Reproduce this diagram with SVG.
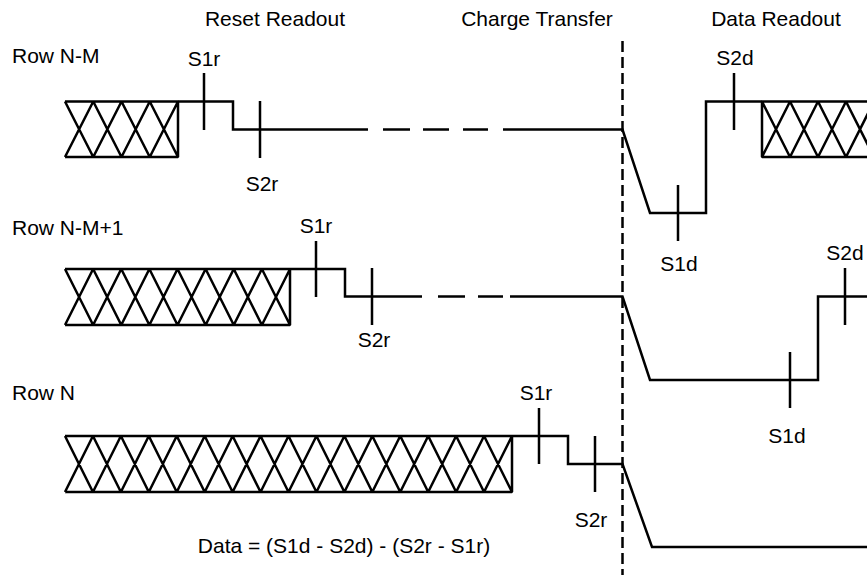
<svg xmlns="http://www.w3.org/2000/svg" width="867" height="575" viewBox="0 0 867 575">
<style>
.ln{fill:none;stroke:#000;stroke-width:2.5;stroke-linejoin:miter;stroke-linecap:butt}
.hx{fill:none;stroke:#000;stroke-width:2.5;stroke-linejoin:bevel}
.dv{fill:none;stroke:#000;stroke-width:2.5;stroke-dasharray:11 5}
text{font-family:"Liberation Sans",Arial,sans-serif;font-size:21px;fill:#000}
.c{text-anchor:middle}
</style>
<rect width="867" height="575" fill="#fff"/>
<g id="headers">
<text class="c" x="275" y="26">Reset Readout</text>
<text class="c" x="537" y="26">Charge Transfer</text>
<text class="c" x="776" y="26">Data Readout</text>
</g>
<g id="divider">
<line class="dv" x1="622.5" y1="41" x2="622.5" y2="575"/>
</g>
<g id="row-n-m">
<text x="12" y="63">Row N-M</text>
<path class="hx" d="M65,101.5H178V157H65M178,101.5V157M65,101.5L93.25,157L121.5,101.5L149.75,157L178,101.5M65,157L93.25,101.5L121.5,157L149.75,101.5L178,157"/>
<path class="ln" d="M178,101.5H233V129.5H368"/>
<path class="ln" d="M383,129.5H410M423,129.5H449M463,129.5H488"/>
<path class="ln" d="M503,129.5H622.5L650,213H706V101.5H762"/>
<path class="hx" d="M867,101.5H762V157H867M762,101.5L790,157L818,101.5L846,157L874,101.5M762,157L790,101.5L818,157L846,101.5L874,157"/>
<path class="ln" d="M204,73V130M260,101V158M678,185V241M734,73V130"/>
<text class="c" x="204" y="66">S1r</text>
<text class="c" x="262" y="191">S2r</text>
<text class="c" x="679" y="271">S1d</text>
<text class="c" x="735" y="65">S2d</text>
</g>
<g id="row-n-m-1">
<text x="12" y="235">Row N-M+1</text>
<path class="hx" d="M65,269H290V325H65M290,269V325M65,269L93.125,325L121.25,269L149.375,325L177.5,269L205.625,325L233.75,269L261.875,325L290,269M65,325L93.125,269L121.25,325L149.375,269L177.5,325L205.625,269L233.75,325L261.875,269L290,325"/>
<path class="ln" d="M290,269H345V296.5H422"/>
<path class="ln" d="M438,296.5H465M478,296.5H503"/>
<path class="ln" d="M510,296.5H622.5L650,380H818V296.5H867"/>
<path class="ln" d="M316,241V297M372,268V325M790,352V408M845,268V325"/>
<text class="c" x="316" y="233">S1r</text>
<text class="c" x="374" y="347">S2r</text>
<text class="c" x="787" y="443">S1d</text>
<text class="c" x="845" y="260">S2d</text>
</g>
<g id="row-n">
<text x="12" y="400">Row N</text>
<path class="hx" d="M65,436H512V492H65M512,436V492M65,436L92.94,492L120.88,436L148.81,492L176.75,436L204.69,492L232.63,436L260.56,492L288.5,436L316.44,492L344.38,436L372.31,492L400.25,436L428.19,492L456.13,436L484.06,492L512,436M65,492L92.94,436L120.88,492L148.81,436L176.75,492L204.69,436L232.63,492L260.56,436L288.5,492L316.44,436L344.38,492L372.31,436L400.25,492L428.19,436L456.13,492L484.06,436L512,492"/>
<path class="ln" d="M512,436H568V464H622.5L652,547H867"/>
<path class="ln" d="M539,408V464M595,436V492"/>
<text class="c" x="536" y="400">S1r</text>
<text class="c" x="591" y="527">S2r</text>
</g>
<g id="formula">
<text class="c" x="344" y="553">Data = (S1d - S2d) - (S2r - S1r)</text>
</g>
</svg>
